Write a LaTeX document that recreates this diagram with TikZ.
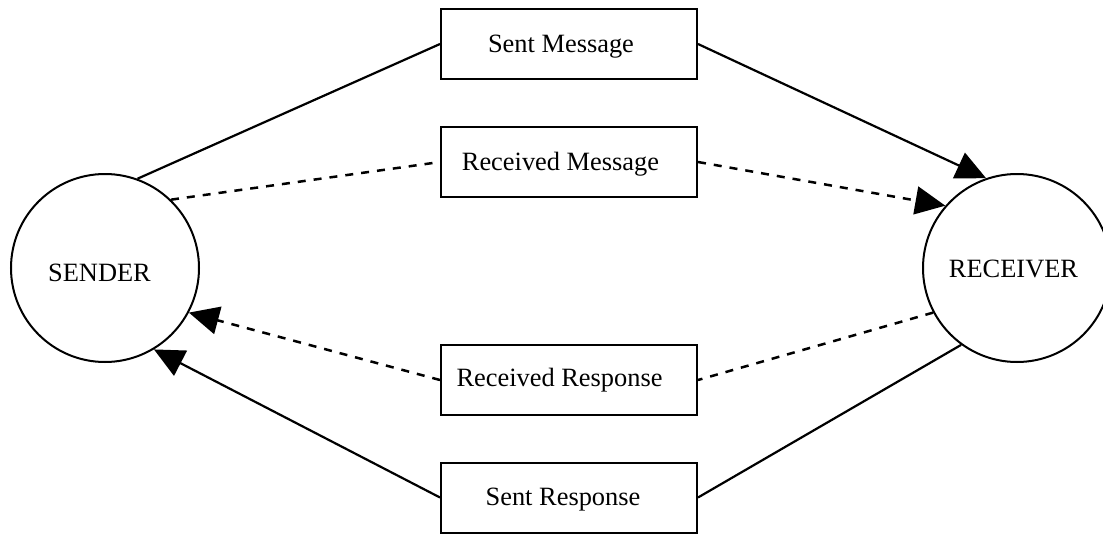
\documentclass[tikz,border=0pt]{standalone}
\usepackage{fontspec}
\setmainfont{Liberation Serif}
\usetikzlibrary{arrows.meta}
\begin{document}
\begin{tikzpicture}[x=1pt,y=-1pt,
  party/.style={circle, draw, line width=2pt, minimum size=188pt, inner sep=0pt},
  msgbox/.style={rectangle, draw, line width=2pt, minimum width=256pt, minimum height=70pt, inner sep=0pt},
  conn/.style={line width=2.2pt},
  dashconn/.style={line width=2.5pt, dash pattern=on 8pt off 8pt},
  tip/.style={-{Triangle[length=30pt,width=28pt]}},
  lbl/.style={font=\fontsize{26.4}{30}\selectfont, anchor=base, inner sep=0pt}]
\useasboundingbox (0,0) rectangle (1103,533);
% parties
\node[party] (sender) at (105,268) {};
\node[party] (receiver) at (1017,268) {};
\node[lbl] (sendertxt) at (99.5,281) {SENDER};
\node[lbl] (receivertxt) at (1013.5,277) {RECEIVER};
% boxes
\node[msgbox] (sm) at (569,44) {};
\node[msgbox] (rm) at (569,162) {};
\node[msgbox] (rr) at (569,380) {};
\node[msgbox] (sr) at (569,497.5) {};
\node[lbl] (smtxt) at (561,52) {Sent Message};
\node[lbl] (rmtxt) at (560.5,170) {Received Message};
\node[lbl] (rrtxt) at (559.5,386.7) {Received Response};
\node[lbl] (srtxt) at (563,505) {Sent Response};
% connectors
\draw[conn] (sender.70) -- (sm.west);
\draw[conn,tip] (sm.east) -- (receiver.109);
\draw[dashconn] (sender.46) -- (rm.west);
\draw[dashconn,tip] (rm.east) -- (receiver.139);
\draw[dashconn] (receiver.208) -- (rr.east);
\draw[dashconn,tip] (rr.west) -- (sender.-28);
\draw[conn] (receiver.234) -- (sr.east);
\draw[conn,tip] (sr.west) -- (sender.-59);
\end{tikzpicture}
\end{document}
